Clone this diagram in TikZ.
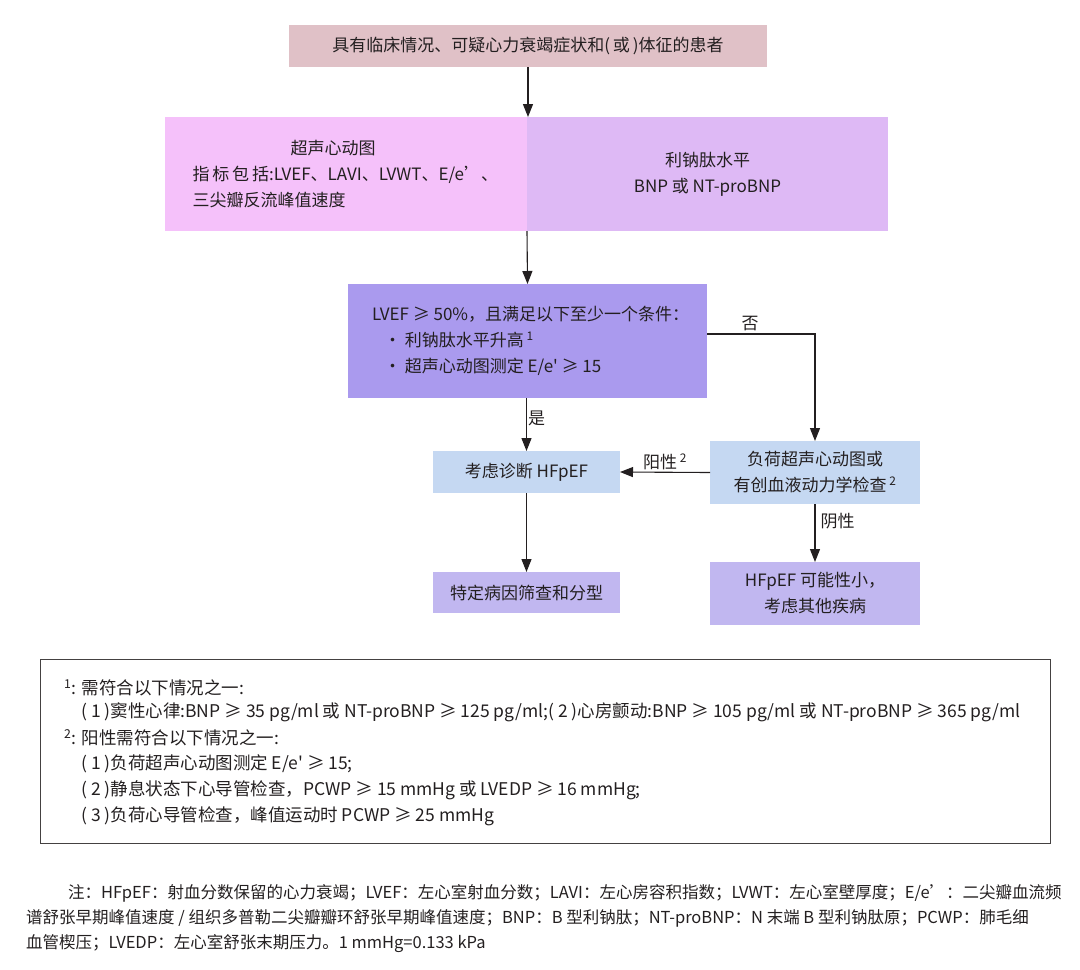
\documentclass[tikz,border=0pt]{standalone}
\usepackage{fontspec}
\setmainfont{Noto Sans CJK SC}[Ligatures=TeXOff]
\usetikzlibrary{positioning}
\usetikzlibrary{arrows.meta}

\definecolor{inchiostro}{RGB}{35,31,32}
\definecolor{rosa}{RGB}{224,193,199}
\definecolor{magenta}{RGB}{245,193,250}
\definecolor{lilla}{RGB}{222,185,245}
\definecolor{viola}{RGB}{170,154,238}
\definecolor{celeste}{RGB}{197,216,242}
\definecolor{lavanda}{RGB}{193,183,240}

\begin{document}
\begin{tikzpicture}[x=1pt,y=-1pt,
every node/.style={font=\fontsize{17}{26}\selectfont,text=inchiostro},
riquadro/.style={anchor=north west,inner sep=0pt,outer sep=0pt},
testoC/.style={align=center,anchor=center},
testoS/.style={align=left,anchor=west},
etich/.style={inner sep=1pt},
freccia/.style={draw=inchiostro,line width=1.1pt,-{Triangle[length=13pt,width=10pt]}},
nota/.style={anchor=west,inner sep=0pt,font=\fontsize{17.5}{20}\selectfont},
piede/.style={anchor=west,inner sep=0pt,font=\fontsize{16.5}{20}\selectfont}
]
\useasboundingbox (0,0) rectangle (1080,970);
%--
\node[riquadro,fill=rosa,minimum width=478pt,minimum height=42pt](pz) at (289,25){};
\node[testoC] at (pz.center){具有临床情况、可疑心力衰竭症状和(\,或\,)体征的患者};
%--
\node[riquadro,fill=magenta,minimum width=362pt,minimum height=114pt](eco) at (165,117){};
\node[testoS] at ([xshift=24pt]eco.west){\hspace{98pt}超声心动图\\指\,标\,包\,括:LVEF、LAVI、LVWT、E/e’、\\三尖瓣反流峰值速度};
\node[riquadro,fill=lilla,minimum width=361pt,minimum height=114pt](bnp) at (527,117){};
\node[testoC] at (bnp.center){利钠肽水平\\BNP 或 NT-proBNP};
\draw [freccia] (pz.south) -- (pz.south |- eco.north);
%--
\node[riquadro,fill=viola,minimum width=359pt,minimum height=114pt](lvef) at (348,284){};
\node[testoS] at ([xshift=20.5pt]lvef.west){LVEF ≥ 50\%，且满足以下至少一个条件：\\
\hspace{12pt}· 利钠肽水平升高\,\textsuperscript{1}\\
\hspace{12pt}· 超声心动图测定 E/e' ≥ 15};
\draw [freccia] (eco.south east) -- (lvef.north);
%--
\node[riquadro,fill=celeste,minimum width=187pt,minimum height=42pt](dx) at (433,451){};
\node[testoC] at (dx.center){考虑诊断 HFpEF};
\draw [freccia] (lvef.south -| dx.north) -- (dx.north) node[etich,pos=0.38,right]{是};
%--
\node[riquadro,fill=celeste,minimum width=210pt,minimum height=63pt](carico) at (710,441){};
\node[testoC] at (carico.center){负荷超声心动图或\\有创血液动力学检查\,\textsuperscript{2}};
\draw [freccia] ([yshift=7pt]lvef.east) -| (carico.north) node[etich,pos=0.2,above=2pt]{否};
\draw [freccia] (carico.west) -- (dx.east) node[etich,midway,above=1pt]{阳性\,\textsuperscript{2}};
%--
\node[riquadro,fill=lavanda,minimum width=187pt,minimum height=41pt](spec) at (433,572){};
\node[testoC] at (spec.center){特定病因筛查和分型};
\draw [freccia] (dx.south) -- (spec.north);
%--
\node[riquadro,fill=lavanda,minimum width=210pt,minimum height=63pt](neg) at (710,562){};
\node[testoC] at (neg.center){HFpEF 可能性小，\\考虑其他疾病};
\draw [freccia] (carico.south) -- (neg.north) node[etich,pos=0.3,right=4pt]{阴性};
%---- note
\node[riquadro,draw=inchiostro!85,line width=1pt,minimum width=1010pt,minimum height=184pt](note) at (40,659){};
\node[nota](n1) at (64,688){\textsuperscript{1}: 需符合以下情况之一:};
\node[nota](n2) at (81,712){( 1 )窦性心律:BNP ≥ 35 pg/ml 或 NT-proBNP ≥ 125 pg/ml;( 2 )心房颤动:BNP ≥ 105 pg/ml 或 NT-proBNP ≥ 365 pg/ml};
\node[nota](n3) at (64,738){\textsuperscript{2}: 阳性需符合以下情况之一:};
\node[nota](n4) at (81,764){( 1 )负荷超声心动图测定 E/e' ≥ 15;};
\node[nota](n5) at (81,790){( 2 )静息状态下心导管检查，PCWP ≥ 15 mmHg 或 LVEDP ≥ 16 mmHg;};
\node[nota](n6) at (81,816){( 3 )负荷心导管检查，峰值运动时 PCWP ≥ 25 mmHg};
%---- legenda
\node[piede](p1) at (68,893){注：HFpEF：射血分数保留的心力衰竭；LVEF：左心室射血分数；LAVI：左心房容积指数；LVWT：左心室壁厚度；E/e’：二尖瓣血流频};
\node[piede](p2) at (26,918){谱舒张早期峰值速度 / 组织多普勒二尖瓣瓣环舒张早期峰值速度；BNP：B 型利钠肽；NT-proBNP：N 末端 B 型利钠肽原；PCWP：肺毛细};
\node[piede](p3) at (26,944){血管楔压；LVEDP：左心室舒张末期压力。1 mmHg=0.133 kPa};
\end{tikzpicture}
\end{document}
